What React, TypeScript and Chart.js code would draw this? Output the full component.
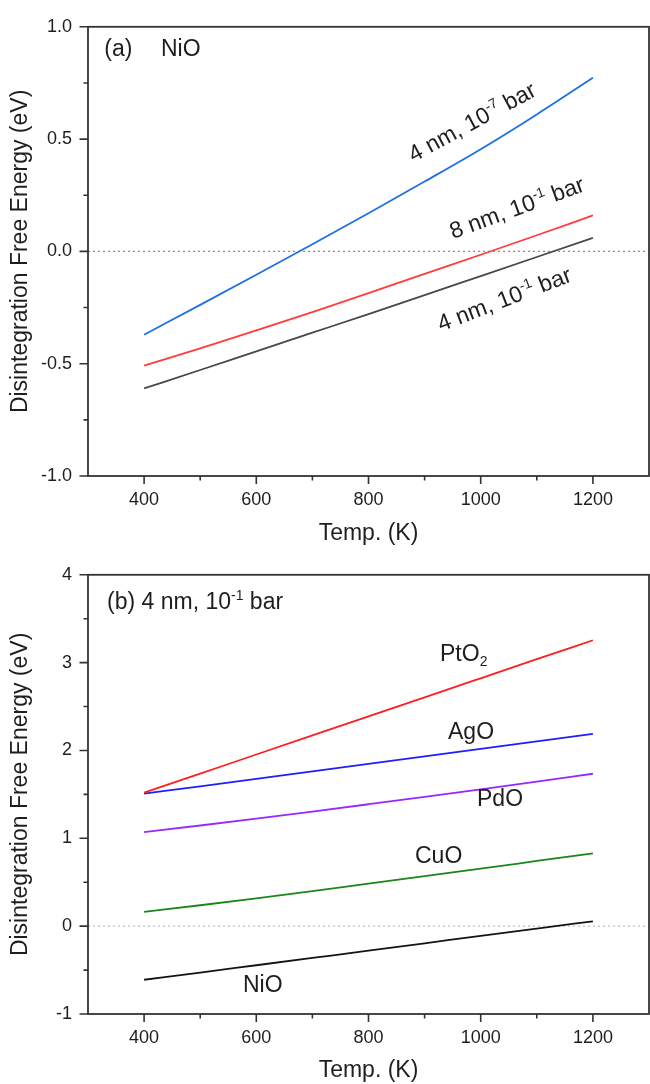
import React, { useEffect, useRef } from "react";
import { Chart, registerables } from "chart.js";

Chart.register(...registerables);

// ---------- data ----------
const temps = [400, 500, 600, 700, 800, 900, 1000, 1100, 1200];

// panel (a) NiO
const nio4nmLowP = [-0.371, -0.238, -0.104, 0.032, 0.17, 0.311, 0.455, 0.61, 0.773]; // 4 nm, 10^-7 bar
const nio8nm = [-0.509, -0.432, -0.352, -0.27, -0.186, -0.1, -0.015, 0.072, 0.16]; // 8 nm, 10^-1 bar
const nio4nm = [-0.61, -0.528, -0.445, -0.362, -0.279, -0.195, -0.11, -0.025, 0.06]; // 4 nm, 10^-1 bar

// panel (b) 4 nm, 10^-1 bar
const pto2 = [1.52, 1.737, 1.954, 2.171, 2.388, 2.605, 2.822, 3.039, 3.255];
const ago = [1.51, 1.592, 1.676, 1.762, 1.848, 1.934, 2.019, 2.104, 2.19];
const pdo = [1.07, 1.146, 1.224, 1.305, 1.388, 1.472, 1.558, 1.646, 1.735];
const cuo = [0.163, 0.238, 0.316, 0.398, 0.485, 0.57, 0.655, 0.742, 0.829];
const nio = [-0.61, -0.528, -0.445, -0.362, -0.279, -0.195, -0.11, -0.027, 0.055];

const xTicks = [400, 600, 800, 1000, 1200];
const xMinor = [500, 700, 900, 1100];
const yTicksA = [-1, -0.5, 0, 0.5, 1];
const yMinorA = [-0.75, -0.25, 0.25, 0.75];
const yTicksB = [-1, 0, 1, 2, 3, 4];
const yMinorB = [-0.5, 0.5, 1.5, 2.5, 3.5];

const FONT = "'Liberation Sans', Arial, Helvetica, sans-serif";
const TXT = "#1e1e1e";
const AXIS = "#333333";

type Seg = { t: string; sup?: boolean; sub?: boolean };
type Note = { x: number; y: number; angle: number; size: number; parts: Seg[] };

const notesA: Note[] = [
  { x: 329, y: 0.868, angle: 0, size: 23, parts: [{ t: "(a)" }] },
  { x: 430, y: 0.868, angle: 0, size: 23, parts: [{ t: "NiO" }] },
  { x: 880, y: 0.396, angle: 28.5, size: 23, parts: [{ t: "4 nm, 10" }, { t: "-7", sup: true }, { t: " bar" }] },
  { x: 950.6, y: 0.055, angle: 20, size: 23, parts: [{ t: "8 nm, 10" }, { t: "-1", sup: true }, { t: " bar" }] },
  { x: 929.2, y: -0.357, angle: 21, size: 23, parts: [{ t: "4 nm, 10" }, { t: "-1", sup: true }, { t: " bar" }] },
];

const notesB: Note[] = [
  { x: 333.9, y: 3.607, angle: 0, size: 23, parts: [{ t: "(b) 4 nm, 10" }, { t: "-1", sup: true }, { t: " bar" }] },
  { x: 927.5, y: 3.02, angle: 0, size: 23, parts: [{ t: "PtO" }, { t: "2", sub: true }] },
  { x: 941.7, y: 2.13, angle: 0, size: 23, parts: [{ t: "AgO" }] },
  { x: 993.4, y: 1.365, angle: 0, size: 23, parts: [{ t: "PdO" }] },
  { x: 882.9, y: 0.72, angle: 0, size: 23, parts: [{ t: "CuO" }] },
  { x: 576.3, y: -0.745, angle: 0, size: 23, parts: [{ t: "NiO" }] },
];

function series(ys: number[]) {
  return temps.map((t, i) => ({ x: t, y: ys[i] }));
}

function lineDs(ys: number[], color: string) {
  return {
    data: series(ys),
    borderColor: color,
    backgroundColor: color,
    borderWidth: 1.8,
    pointRadius: 0,
    showLine: true,
    cubicInterpolationMode: "monotone" as const,
    order: 1,
  };
}

function zeroDs(color: string) {
  return {
    data: [
      { x: 300, y: 0 },
      { x: 1300, y: 0 },
    ],
    borderColor: color,
    borderWidth: 1.2,
    borderDash: [2, 3],
    pointRadius: 0,
    showLine: true,
    order: 5,
  };
}

function makePlugin(yMajor: number[], yMinor: number[], notes: Note[]) {
  return {
    id: "frameAndNotes",
    afterDatasetsDraw(chart: any) {
      const ctx = chart.ctx as CanvasRenderingContext2D;
      const xs = chart.scales.x;
      const ys = chart.scales.y;
      const a = chart.chartArea;
      ctx.save();
      ctx.strokeStyle = AXIS;
      ctx.lineWidth = 1.8;
      ctx.strokeRect(a.left, a.top, a.right - a.left, a.bottom - a.top);
      ctx.lineWidth = 1.6;
      ctx.beginPath();
      for (const v of xTicks) {
        const p = xs.getPixelForValue(v);
        ctx.moveTo(p, a.bottom);
        ctx.lineTo(p, a.bottom + 8);
      }
      for (const v of xMinor) {
        const p = xs.getPixelForValue(v);
        ctx.moveTo(p, a.bottom);
        ctx.lineTo(p, a.bottom + 4.5);
      }
      for (const v of yMajor) {
        const p = ys.getPixelForValue(v);
        ctx.moveTo(a.left, p);
        ctx.lineTo(a.left - 8.5, p);
      }
      for (const v of yMinor) {
        const p = ys.getPixelForValue(v);
        ctx.moveTo(a.left, p);
        ctx.lineTo(a.left - 4.5, p);
      }
      ctx.stroke();

      ctx.fillStyle = TXT;
      for (const n of notes) {
        const px = xs.getPixelForValue(n.x);
        const py = ys.getPixelForValue(n.y);
        ctx.save();
        ctx.translate(px, py);
        ctx.rotate((-n.angle * Math.PI) / 180);
        ctx.textAlign = "left";
        ctx.textBaseline = "alphabetic";
        let cx = 0;
        for (const s of n.parts) {
          const fs = s.sup || s.sub ? Math.round(n.size * 0.62) : n.size;
          ctx.font = `${fs}px ${FONT}`;
          const dy = s.sup ? -n.size * 0.4 : s.sub ? n.size * 0.22 : 0;
          ctx.fillText(s.t, cx, dy);
          cx += ctx.measureText(s.t).width;
        }
        ctx.restore();
      }
      ctx.restore();
    },
  };
}

function buildConfig(opts: {
  datasets: any[];
  yMin: number;
  yMax: number;
  yMajor: number[];
  yMinor: number[];
  fmt: (v: number) => string;
  padTop: number;
  xHeight: number;
  titleBottom: number;
  notes: Note[];
}) {
  return {
    type: "scatter" as const,
    data: { datasets: opts.datasets },
    plugins: [makePlugin(opts.yMajor, opts.yMinor, opts.notes)],
    options: {
      animation: false,
      responsive: false,
      maintainAspectRatio: false,
      layout: { padding: { top: opts.padTop, right: 1, left: 0, bottom: 0 } },
      plugins: { legend: { display: false }, tooltip: { enabled: false } },
      scales: {
        x: {
          type: "linear",
          min: 300,
          max: 1300,
          afterBuildTicks: (s: any) => {
            s.ticks = xTicks.map((v) => ({ value: v }));
          },
          afterFit: (s: any) => {
            s.height = opts.xHeight;
          },
          grid: { display: false, drawTicks: false },
          border: { display: false },
          ticks: {
            padding: 13,
            color: TXT,
            font: { family: FONT, size: 18 },
            maxRotation: 0,
            autoSkip: false,
            callback: (v: any) => String(v),
          },
          title: {
            display: true,
            text: "Temp. (K)",
            color: TXT,
            font: { family: FONT, size: 23 },
            padding: { top: 0, bottom: opts.titleBottom },
          },
        },
        y: {
          type: "linear",
          min: opts.yMin,
          max: opts.yMax,
          afterBuildTicks: (s: any) => {
            s.ticks = opts.yMajor.map((v) => ({ value: v }));
          },
          afterFit: (s: any) => {
            s.width = 88;
          },
          grid: { display: false, drawTicks: false },
          border: { display: false },
          ticks: {
            padding: 16,
            color: TXT,
            font: { family: FONT, size: 18 },
            autoSkip: false,
            callback: (v: any) => opts.fmt(Number(v)),
          },
          title: {
            display: true,
            text: "Disintegration Free Energy (eV)",
            color: TXT,
            font: { family: FONT, size: 23 },
            padding: { top: 7, bottom: 0 },
          },
        },
      },
    },
  };
}

function Panel(props: { top: number; height: number; config: any }) {
  const ref = useRef<HTMLCanvasElement | null>(null);
  useEffect(() => {
    if (!ref.current) return;
    const chart = new Chart(ref.current, props.config);
    return () => chart.destroy();
  }, []);
  return (
    <canvas
      ref={ref}
      width={650}
      height={props.height}
      style={{ position: "absolute", left: 0, top: props.top, width: 650, height: props.height }}
    />
  );
}

export default function App() {
  const cfgA = buildConfig({
    datasets: [
      lineDs(nio4nmLowP, "rgb(30,112,232)"),
      lineDs(nio8nm, "rgb(255,60,60)"),
      lineDs(nio4nm, "rgb(72,72,72)"),
      zeroDs("#8a8a8a"),
    ],
    yMin: -1,
    yMax: 1,
    yMajor: yTicksA,
    yMinor: yMinorA,
    fmt: (v) => v.toFixed(1),
    padTop: 24,
    xHeight: 72,
    titleBottom: 1,
    notes: notesA,
  });
  const cfgB = buildConfig({
    datasets: [
      lineDs(pto2, "rgb(255,30,30)"),
      lineDs(ago, "rgb(30,30,255)"),
      lineDs(pdo, "rgb(150,40,255)"),
      lineDs(cuo, "rgb(25,135,25)"),
      lineDs(nio, "rgb(20,20,20)"),
      zeroDs("#bdbdbd"),
    ],
    yMin: -1,
    yMax: 4,
    yMajor: yTicksB,
    yMinor: yMinorB,
    fmt: (v) => String(v),
    padTop: 15,
    xHeight: 70,
    titleBottom: 0,
    notes: notesB,
  });
  return (
    <div style={{ position: "absolute", left: 0, top: 0, width: 650, height: 1084, background: "#fff" }}>
      <Panel top={0} height={548} config={cfgA} />
      <Panel top={548} height={536} config={cfgB} />
    </div>
  );
}
